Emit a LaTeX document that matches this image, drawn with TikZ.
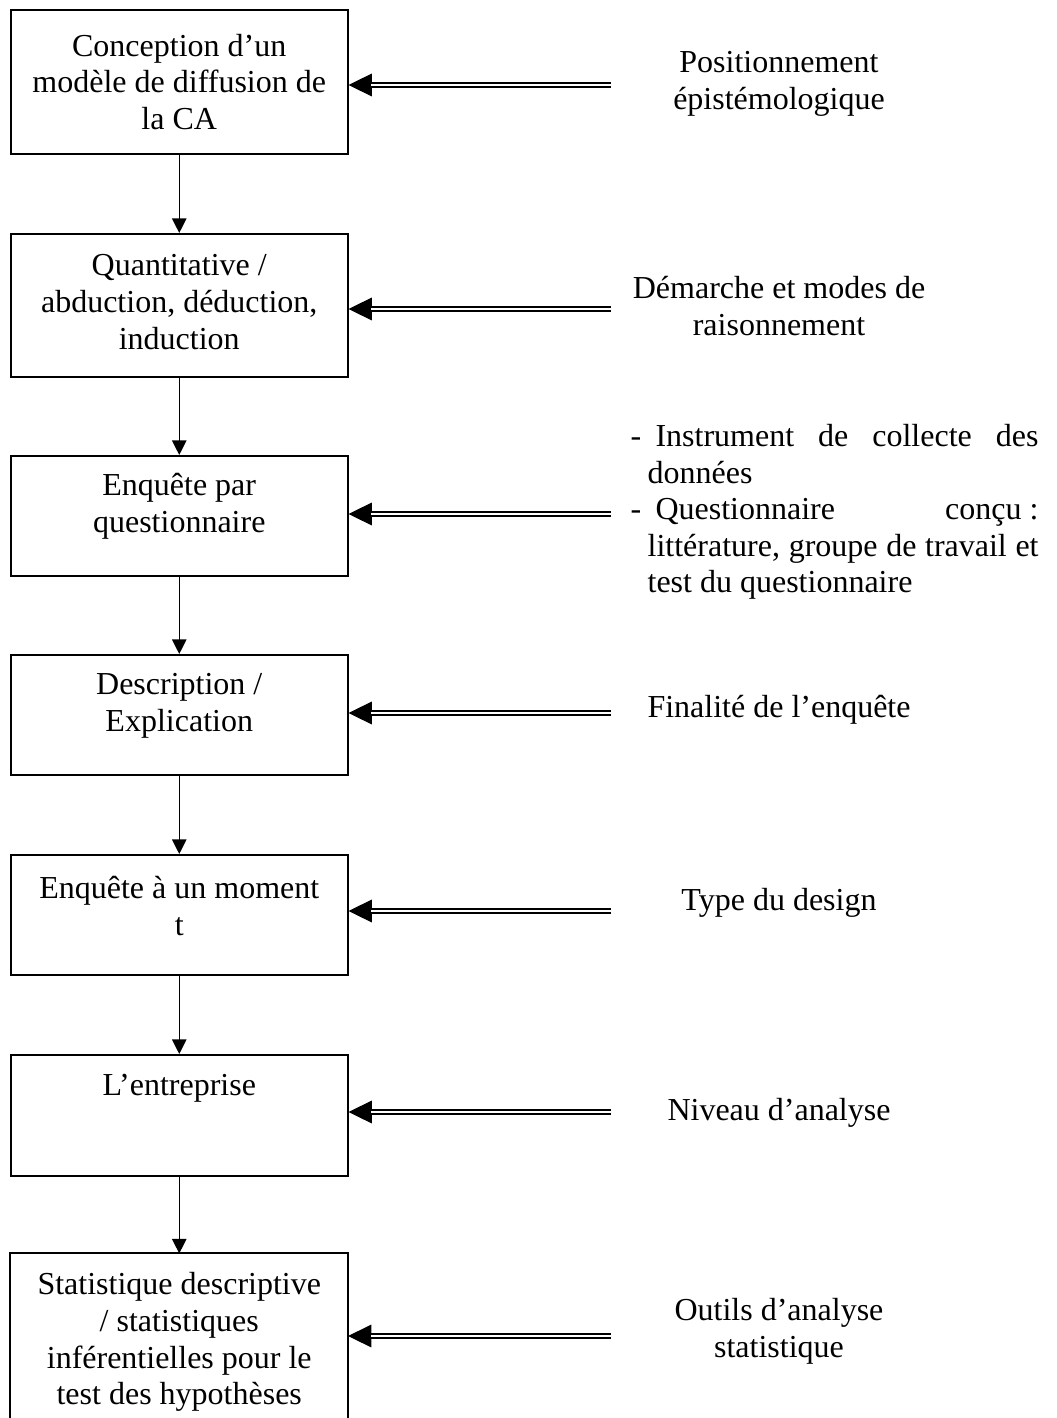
\documentclass[tikz,border=0pt]{standalone}
\usepackage{fontspec}
\setmainfont{Liberation Serif}
\usetikzlibrary{arrows.meta}
\newcommand\pxu{0.375pt}
\begin{document}
\begin{tikzpicture}[x=0.375pt,y=-0.375pt,
  stepbox/.style={draw, line width=0.75pt, minimum width=336.5*\pxu, inner sep=0pt},
  opentop/.style={minimum width=336.5*\pxu, inner sep=0pt},
  boxtext/.style={align=center, inner sep=0pt, font=\fontsize{12pt}{13.8pt}\selectfont},
  sidetext/.style={align=center, inner sep=0pt, font=\fontsize{12pt}{13.8pt}\selectfont},
  listtext/.style={align=left, inner sep=0pt, anchor=west, font=\fontsize{12pt}{13.7pt}\selectfont},
  flow/.style={draw, line width=0.55pt, -{Triangle[length=5.5pt,width=5.4pt]}},
  dbl/.style={draw, line width=0.4pt, -{Triangle[length=8.75pt,width=8.5pt]},
    preaction={draw, line width=2.6pt, shorten >=8.5pt, arrows=-},
    postaction={draw=white, line width=1.1pt, shorten >=8.5pt, arrows=-}}]
\useasboundingbox (0,0) rectangle (1056,1418);

% left column: steps of the method
\node[stepbox, minimum height=144*\pxu] (b1) at (179.25,82) {};
\node[stepbox, minimum height=143*\pxu] (b2) at (179.25,305.5) {};
\node[stepbox, minimum height=120*\pxu] (b3) at (179.25,516) {};
\node[stepbox, minimum height=120*\pxu] (b4) at (179.25,715) {};
\node[stepbox, minimum height=120*\pxu] (b5) at (179.25,915) {};
\node[stepbox, minimum height=121*\pxu] (b6) at (179.25,1115.5) {};
\node[opentop, minimum height=164*\pxu] (b7) at (179.25,1336) {};
\draw[line width=0.75pt] (b7.south west) -- (b7.north west) -- (b7.north east) -- (b7.south east);

\node[boxtext] (t1) at (179.25,82) {Conception d’un\\modèle de diffusion de\\la CA};
\node[boxtext] (t2) at (179.25,302) {Quantitative /\\abduction, déduction,\\induction};
\node[boxtext] (t3) at (179.25,506) {Enquête par\\questionnaire};
\node[boxtext] (t4) at (179.25,706) {Description /\\Explication};
\node[boxtext] (t5) at (179.25,906) {Enquête à un moment\\t};
\node[boxtext] (t6) at (179.25,1088) {L’entreprise};
\node[boxtext] (t7) at (179.25,1342) {Statistique descriptive\\/ statistiques\\inférentielles pour le\\test des hypothèses};

% vertical flow
\draw[flow] (b1.south) -- (b2.north);
\draw[flow] (b2.south) -- (b3.north);
\draw[flow] (b3.south) -- (b4.north);
\draw[flow] (b4.south) -- (b5.north);
\draw[flow] (b5.south) -- (b6.north);
\draw[flow] (b6.south) -- (b7.north);

% right column: what each step answers
\node[sidetext] (r1) at (779,84) {Positionnement\\épistémologique};
\node[sidetext] (r2) at (779,306) {Démarche et modes de\\raisonnement};
\node[listtext] (r3) at (630,512) {%
  \makebox[9.375pt][l]{-}\makebox[143.6pt][s]{Instrument de collecte des}\\
  \hspace*{6.4pt}données\\
  \makebox[9.375pt][l]{-}\makebox[143.6pt]{Questionnaire\hfill conçu~:}\\
  \hspace*{6.4pt}\makebox[146.6pt][s]{littérature, groupe de travail et}\\
  \hspace*{6.4pt}test du questionnaire};
\node[sidetext] (r4) at (779,710) {Finalité de l’enquête};
\node[sidetext] (r5) at (779,903) {Type du design};
\node[sidetext] (r6) at (779,1113) {Niveau d’analyse};
\node[sidetext] (r7) at (779,1331) {Outils d’analyse\\statistique};

% double arrows feeding each step
\coordinate (s1) at (611,85);
\coordinate (s2) at (611,309);
\coordinate (s3) at (611,514);
\coordinate (s4) at (611,713);
\coordinate (s5) at (611,911);
\coordinate (s6) at (611,1112);
\coordinate (s7) at (611,1336);
\draw[dbl] (s1) -- (b1.east |- s1);
\draw[dbl] (s2) -- (b2.east |- s2);
\draw[dbl] (s3) -- (b3.east |- s3);
\draw[dbl] (s4) -- (b4.east |- s4);
\draw[dbl] (s5) -- (b5.east |- s5);
\draw[dbl] (s6) -- (b6.east |- s6);
\draw[dbl] (s7) -- (b7.east |- s7);
\end{tikzpicture}
\end{document}
